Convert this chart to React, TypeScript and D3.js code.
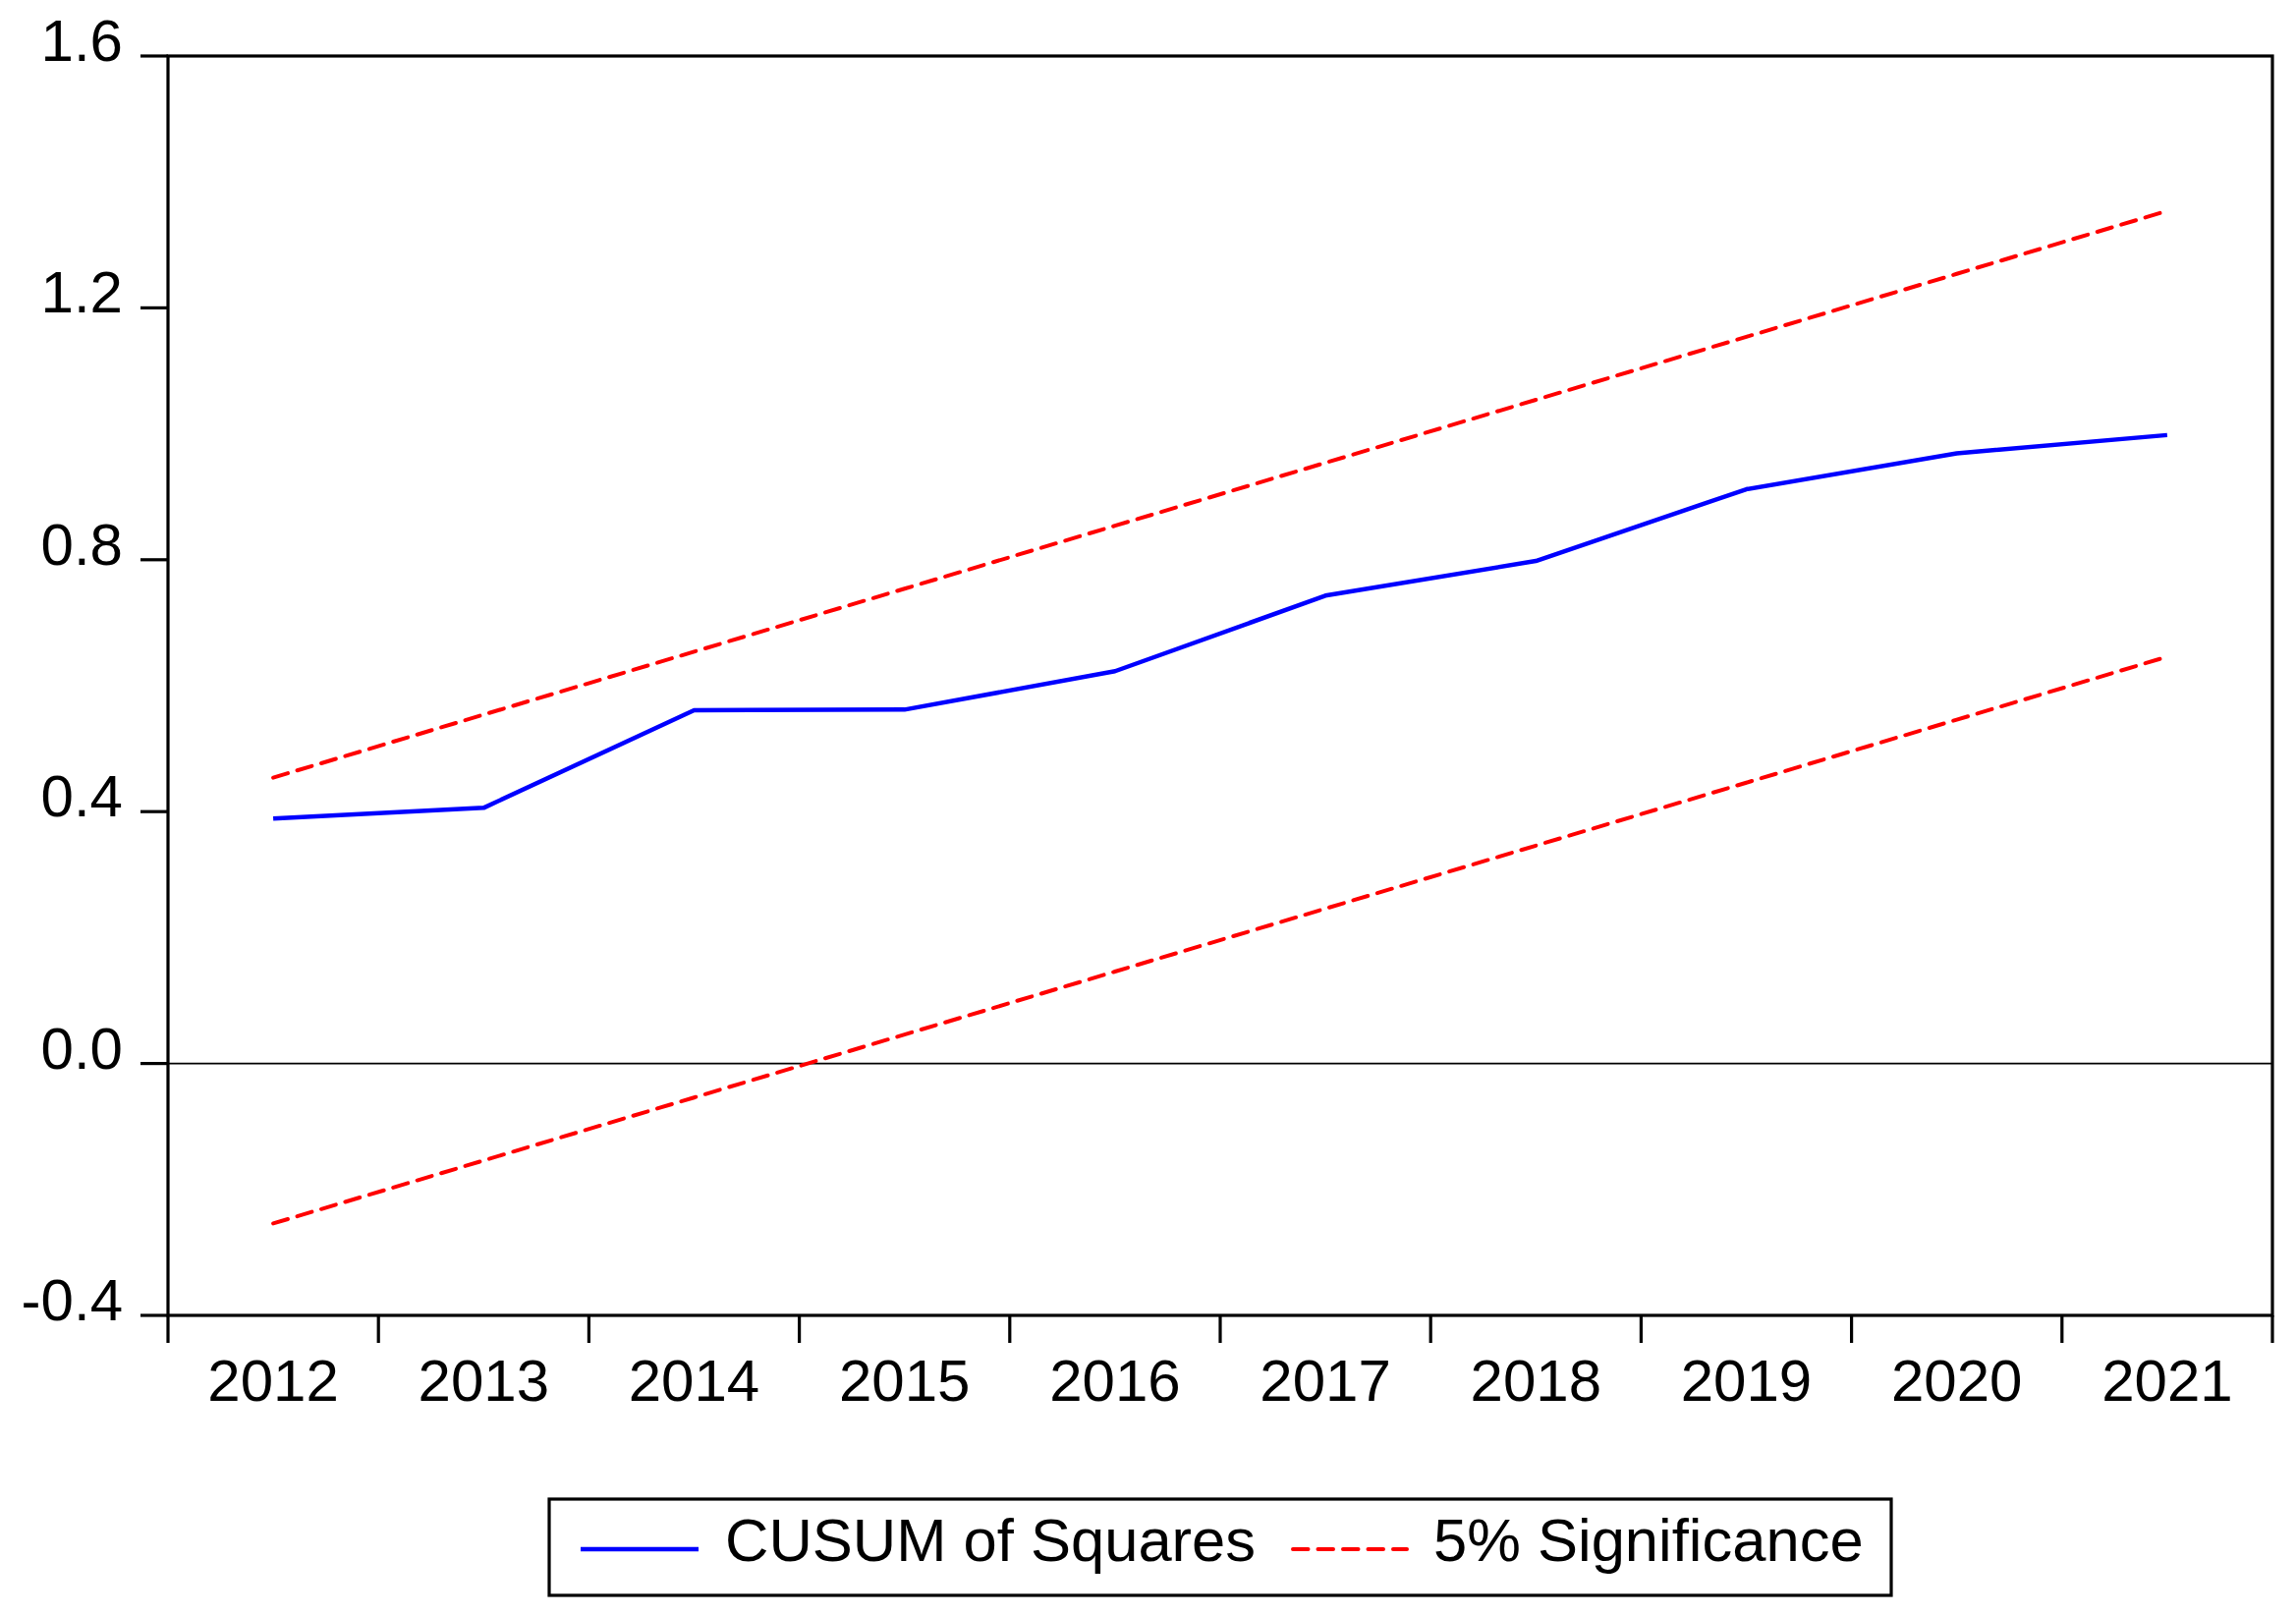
import React from "react";
import * as d3 from "d3";

const years = ["2012", "2013", "2014", "2015", "2016", "2017", "2018", "2019", "2020", "2021"];
const cusumSq = [0.389, 0.406, 0.561, 0.562, 0.623, 0.743, 0.798, 0.912, 0.969, 0.998];
const upperBound = [0.454, 0.554, 0.654, 0.754, 0.854, 0.954, 1.054, 1.154, 1.254, 1.354];
const lowerBound = [-0.254, -0.154, -0.054, 0.046, 0.146, 0.246, 0.346, 0.446, 0.546, 0.646];
const yTicks = [-0.4, 0.0, 0.4, 0.8, 1.2, 1.6];
const legendLabels = ["CUSUM of Squares", "5% Significance"];

const W = 2337;
const H = 1644;
const L = 171, R = 2313, T = 57, B = 1339;
const FONT = "'Liberation Sans', Arial, sans-serif";
const BLUE = "#0000ff";
const RED = "#ff0000";

export default function App() {
  const x = d3.scaleBand<string>().domain(years).range([L, R]).padding(0);
  const y = d3.scaleLinear().domain([-0.4, 1.6]).range([B, T]);
  const cx = (i: number) => (x(years[i]) as number) + x.bandwidth() / 2;
  const line = d3
    .line<number>()
    .x((_, i) => cx(i))
    .y((d) => y(d));
  const fmt = (v: number) => d3.format(".1f")(v).replace("\u2212", "-");
  const boundaries = years.map((yr) => x(yr) as number).concat([R]);

  return (
    <div style={{ position: "absolute", left: 0, top: 0 }}>
      <svg width={W} height={H} style={{ display: "block", background: "#fff" }}>
        <rect x={0} y={0} width={W} height={H} fill="#fff" />
        {/* zero line */}
        <line x1={L} x2={R} y1={y(0)} y2={y(0)} stroke="#000" strokeWidth={1.6} />
        {/* series */}
        <path d={line(upperBound) || ""} fill="none" stroke={RED} strokeWidth={4} strokeDasharray="15.5,10" strokeLinecap="round" />
        <path d={line(lowerBound) || ""} fill="none" stroke={RED} strokeWidth={4} strokeDasharray="15.5,10" strokeLinecap="round" />
        <path d={line(cusumSq) || ""} fill="none" stroke={BLUE} strokeWidth={4.5} strokeLinejoin="round" />
        {/* frame */}
        <rect x={L} y={T} width={R - L} height={B - T} fill="none" stroke="#000" strokeWidth={3.2} />
        {/* y ticks */}
        {yTicks.map((t) => (
          <g key={t}>
            <line x1={L - 28} x2={L} y1={y(t)} y2={y(t)} stroke="#000" strokeWidth={3.2} />
            <text x={125} y={y(t) + 5} textAnchor="end" fontFamily={FONT} fontSize={60} fill="#000">
              {fmt(t)}
            </text>
          </g>
        ))}
        {/* x ticks */}
        {boundaries.map((bx, i) => (
          <line key={i} x1={bx} x2={bx} y1={B} y2={B + 28} stroke="#000" strokeWidth={3.2} />
        ))}
        {years.map((yr, i) => (
          <text key={yr} x={cx(i)} y={1426} textAnchor="middle" fontFamily={FONT} fontSize={60} fill="#000">
            {yr}
          </text>
        ))}
        {/* legend */}
        <rect x={559} y={1526} width={1366} height={98} fill="#fff" stroke="#000" strokeWidth={3.2} />
        <line x1={591} x2={711} y1={1577} y2={1577} stroke={BLUE} strokeWidth={4.5} />
        <text x={738} y={1589} fontFamily={FONT} fontSize={61.5} fill="#000">
          {legendLabels[0]}
        </text>
        <line x1={1316} x2={1432} y1={1577} y2={1577} stroke={RED} strokeWidth={4} strokeDasharray="15.5,10" strokeLinecap="round" />
        <text x={1459} y={1589} fontFamily={FONT} fontSize={61.5} fill="#000">
          {legendLabels[1]}
        </text>
      </svg>
    </div>
  );
}
